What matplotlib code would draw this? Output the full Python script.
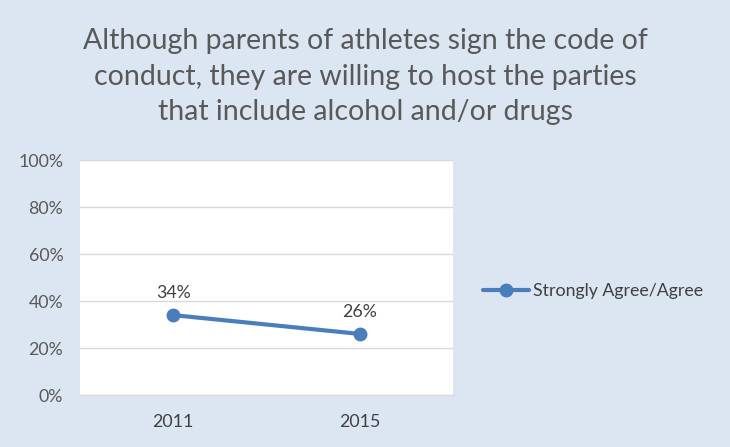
import matplotlib.pyplot as plt

years = ['2011', '2015']
agree = [34, 26]
yticks = [0, 20, 40, 60, 80, 100]

title = ('Although parents of athletes sign the code of\n'
         'conduct, they are willing to host the parties\n'
         'that include alcohol and/or drugs')

plt.rcParams['font.family'] = ['Lato', 'DejaVu Sans']
gray = '#595959'
blue = '#4A7EBB'
fs = 12.8

fig = plt.figure(figsize=(7.3, 4.47), dpi=100)
fig.patch.set_facecolor('#DCE6F2')
ax = fig.add_axes([0.1096, 0.1163, 0.511, 0.5257])
ax.set_facecolor('white')

x = range(len(years))
ax.plot(x, agree, color=blue, linewidth=3, marker='o', markersize=9,
        label='Strongly Agree/Agree', solid_capstyle='round', zorder=3)
for i, v in zip(x, agree):
    ax.annotate(f'{v}%', (i, v), xytext=(0, 10), textcoords='offset points',
                ha='center', va='bottom', fontsize=fs, color='#404040')

ax.set_xlim(-0.5, len(years) - 0.5)
ax.set_ylim(0, 100)
ax.set_yticks(yticks)
ax.set_yticklabels([f'{t}%' for t in yticks])
ax.set_xticks(list(x))
ax.set_xticklabels(years)
ax.tick_params(axis='y', length=0, pad=12, labelsize=fs, labelcolor=gray)
ax.tick_params(axis='x', length=0, pad=14, labelsize=fs, labelcolor='#404040')
ax.grid(axis='y', color='#D9D9D9', linewidth=1)
ax.set_axisbelow(True)
for s in ['top', 'left', 'right']:
    ax.spines[s].set_visible(False)
ax.spines['bottom'].set_color('#D9D9D9')

fig.text(0.5, 0.828, title, ha='center', va='center', fontsize=20.5,
         color=gray, linespacing=1.45)

fig.legend(loc='center left', bbox_to_anchor=(0.662, 0.349), frameon=False,
           fontsize=fs, labelcolor='#404040', handlelength=2.6,
           handletextpad=0.2, borderpad=0, borderaxespad=0)

fig.savefig('out.png', dpi=100, facecolor=fig.get_facecolor())
